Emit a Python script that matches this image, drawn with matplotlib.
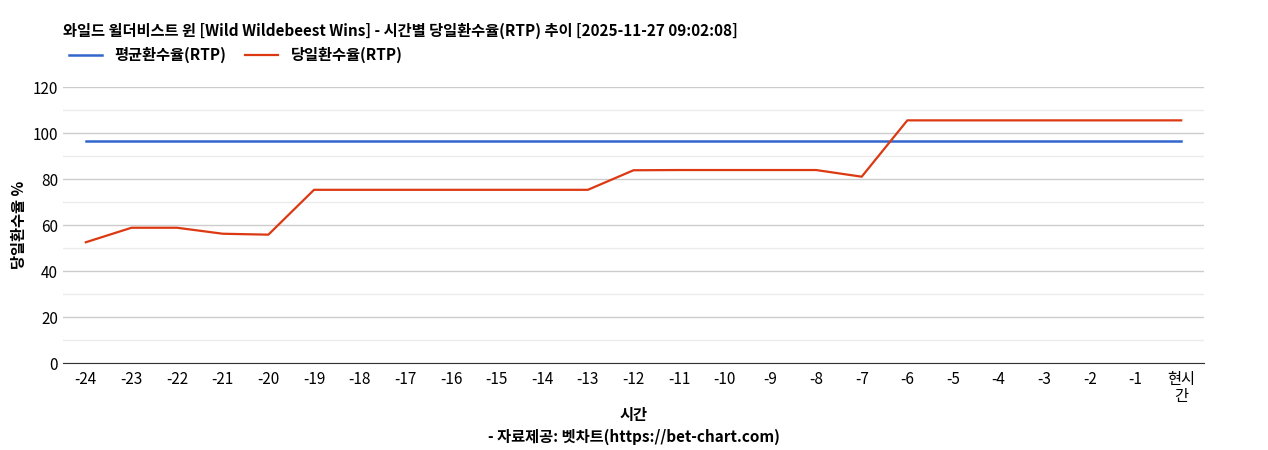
import matplotlib.pyplot as plt

plt.rcParams['font.family'] = ['Noto Sans CJK KR', 'DejaVu Sans']

labels = [str(i) for i in range(-24, 0)] + ['현시\n간']
avg_rtp = [96.4] * 25
day_rtp = [52.5, 58.8, 58.8, 56.2, 55.8, 75.3, 75.3, 75.3, 75.3, 75.3, 75.3, 75.3,
           83.8, 83.9, 83.9, 83.9, 83.9, 81.0, 105.5, 105.5, 105.5, 105.5, 105.5, 105.5, 105.5]

fig = plt.figure(figsize=(12.68, 4.5), dpi=100)
ax = fig.add_axes([63 / 1268, 1 - 363 / 450, (1204 - 63) / 1268, (363 - 87) / 450])

x = range(len(labels))
l1, = ax.plot(x, avg_rtp, color='#3366cc', lw=1.8)
l2, = ax.plot(x, day_rtp, color='#dc3912', lw=1.6)

ax.set_ylim(0, 120)
ax.set_xlim(-0.5, 24.5)
ax.set_yticks(range(0, 121, 20))
ax.set_yticks(range(10, 120, 20), minor=True)
ax.grid(axis='y', which='major', color='#cccccc', lw=1)
ax.grid(axis='y', which='minor', color='#ebebeb', lw=1)
ax.set_axisbelow(True)
ax.set_xticks(list(x))
ax.set_xticklabels(labels, fontsize=11, linespacing=1.0)
ax.tick_params(axis='y', which='both', labelsize=11, length=0)
ax.tick_params(axis='x', length=0, pad=6)
for s in ['top', 'right', 'left']:
    ax.spines[s].set_visible(False)
ax.spines['bottom'].set_color('#333333')

ax.set_ylabel('당일환수율 %', fontsize=11, fontweight='bold', labelpad=4)
fig.text(0.5, 1 - 415 / 450, '시간', ha='center', va='center', fontsize=11, fontweight='bold')
fig.text(0.5, 1 - 437 / 450, '- 자료제공: 벳차트(https://bet-chart.com)', ha='center', va='center',
         fontsize=11, fontweight='bold')
fig.text(63 / 1268, 1 - 31 / 450, '와일드 윌더비스트 윈 [Wild Wildebeest Wins] - 시간별 당일환수율(RTP) 추이 [2025-11-27 09:02:08]',
         ha='left', va='center', fontsize=11, fontweight='bold')
fig.legend([l1, l2], ['평균환수율(RTP)', '당일환수율(RTP)'], loc='center left',
           bbox_to_anchor=(55 / 1268, 1 - 55 / 450), ncol=2, frameon=False,
           prop={'size': 11, 'weight': 'bold'}, handlelength=2.2, columnspacing=1.2)

fig.savefig('out.png', dpi=100)
